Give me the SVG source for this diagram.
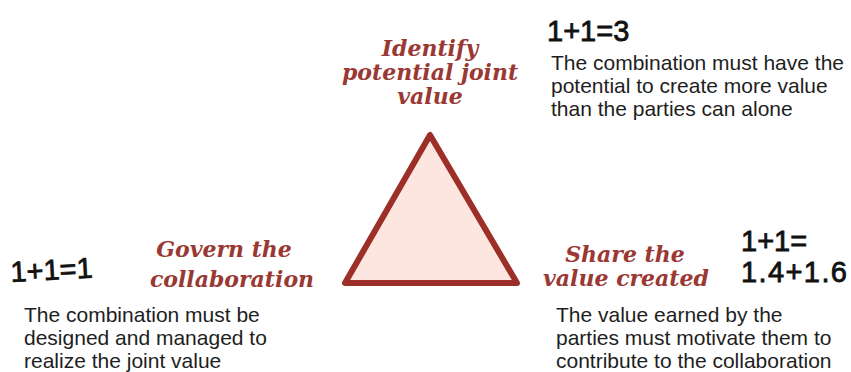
<svg xmlns="http://www.w3.org/2000/svg" width="851" height="372" viewBox="0 0 851 372">
  <style>
    .head { font-family: "DejaVu Serif", "Liberation Serif", serif; font-weight: bold; font-style: italic; font-size: 22px; fill: #9a3833; text-anchor: middle; }
    .body { font-family: "Liberation Sans", Arial, sans-serif; font-size: 21px; fill: #1e1e1e; }
    .eq { font-family: "Liberation Sans", Arial, sans-serif; font-size: 29px; fill: #111; stroke: #111; stroke-width: 0.8; }
  </style>
  <rect width="851" height="372" fill="#ffffff"/>

  <!-- central triangle -->
  <g id="triangle">
    <polygon points="430,135 345,283 517,283" fill="#fde5e0" stroke="#9c2f27" stroke-width="6" stroke-linejoin="round"/>
  </g>

  <g id="connectors"></g>

  <!-- top vertex -->
  <g id="identify">
    <text class="head" x="430" y="56">Identify</text>
    <text class="head" x="430" y="80">potential joint</text>
    <text class="head" x="430" y="104">value</text>
    <text class="eq" x="547" y="41">1+1=3</text>
    <text class="body" x="551" y="70">The combination must have the</text>
    <text class="body" x="551" y="93">potential to create more value</text>
    <text class="body" x="551" y="116">than the parties can alone</text>
  </g>

  <!-- bottom-left vertex -->
  <g id="govern">
    <text class="head" x="224" y="257">Govern the</text>
    <text class="head" x="232" y="287">collaboration</text>
    <text class="eq" x="11" y="282" transform="rotate(-3 11 282)">1+1=1</text>
    <text class="body" x="24" y="322">The combination must be</text>
    <text class="body" x="24" y="345">designed and managed to</text>
    <text class="body" x="24" y="368">realize the joint value</text>
  </g>

  <!-- bottom-right vertex -->
  <g id="share">
    <text class="head" x="625" y="262">Share the</text>
    <text class="head" x="626" y="286">value created</text>
    <text class="eq" x="741" y="251">1+1=</text>
    <text class="eq" x="741" y="282" textLength="106">1.4+1.6</text>
    <text class="body" x="556" y="322">The value earned by the</text>
    <text class="body" x="556" y="345">parties must motivate them to</text>
    <text class="body" x="556" y="368">contribute to the collaboration</text>
  </g>
</svg>
